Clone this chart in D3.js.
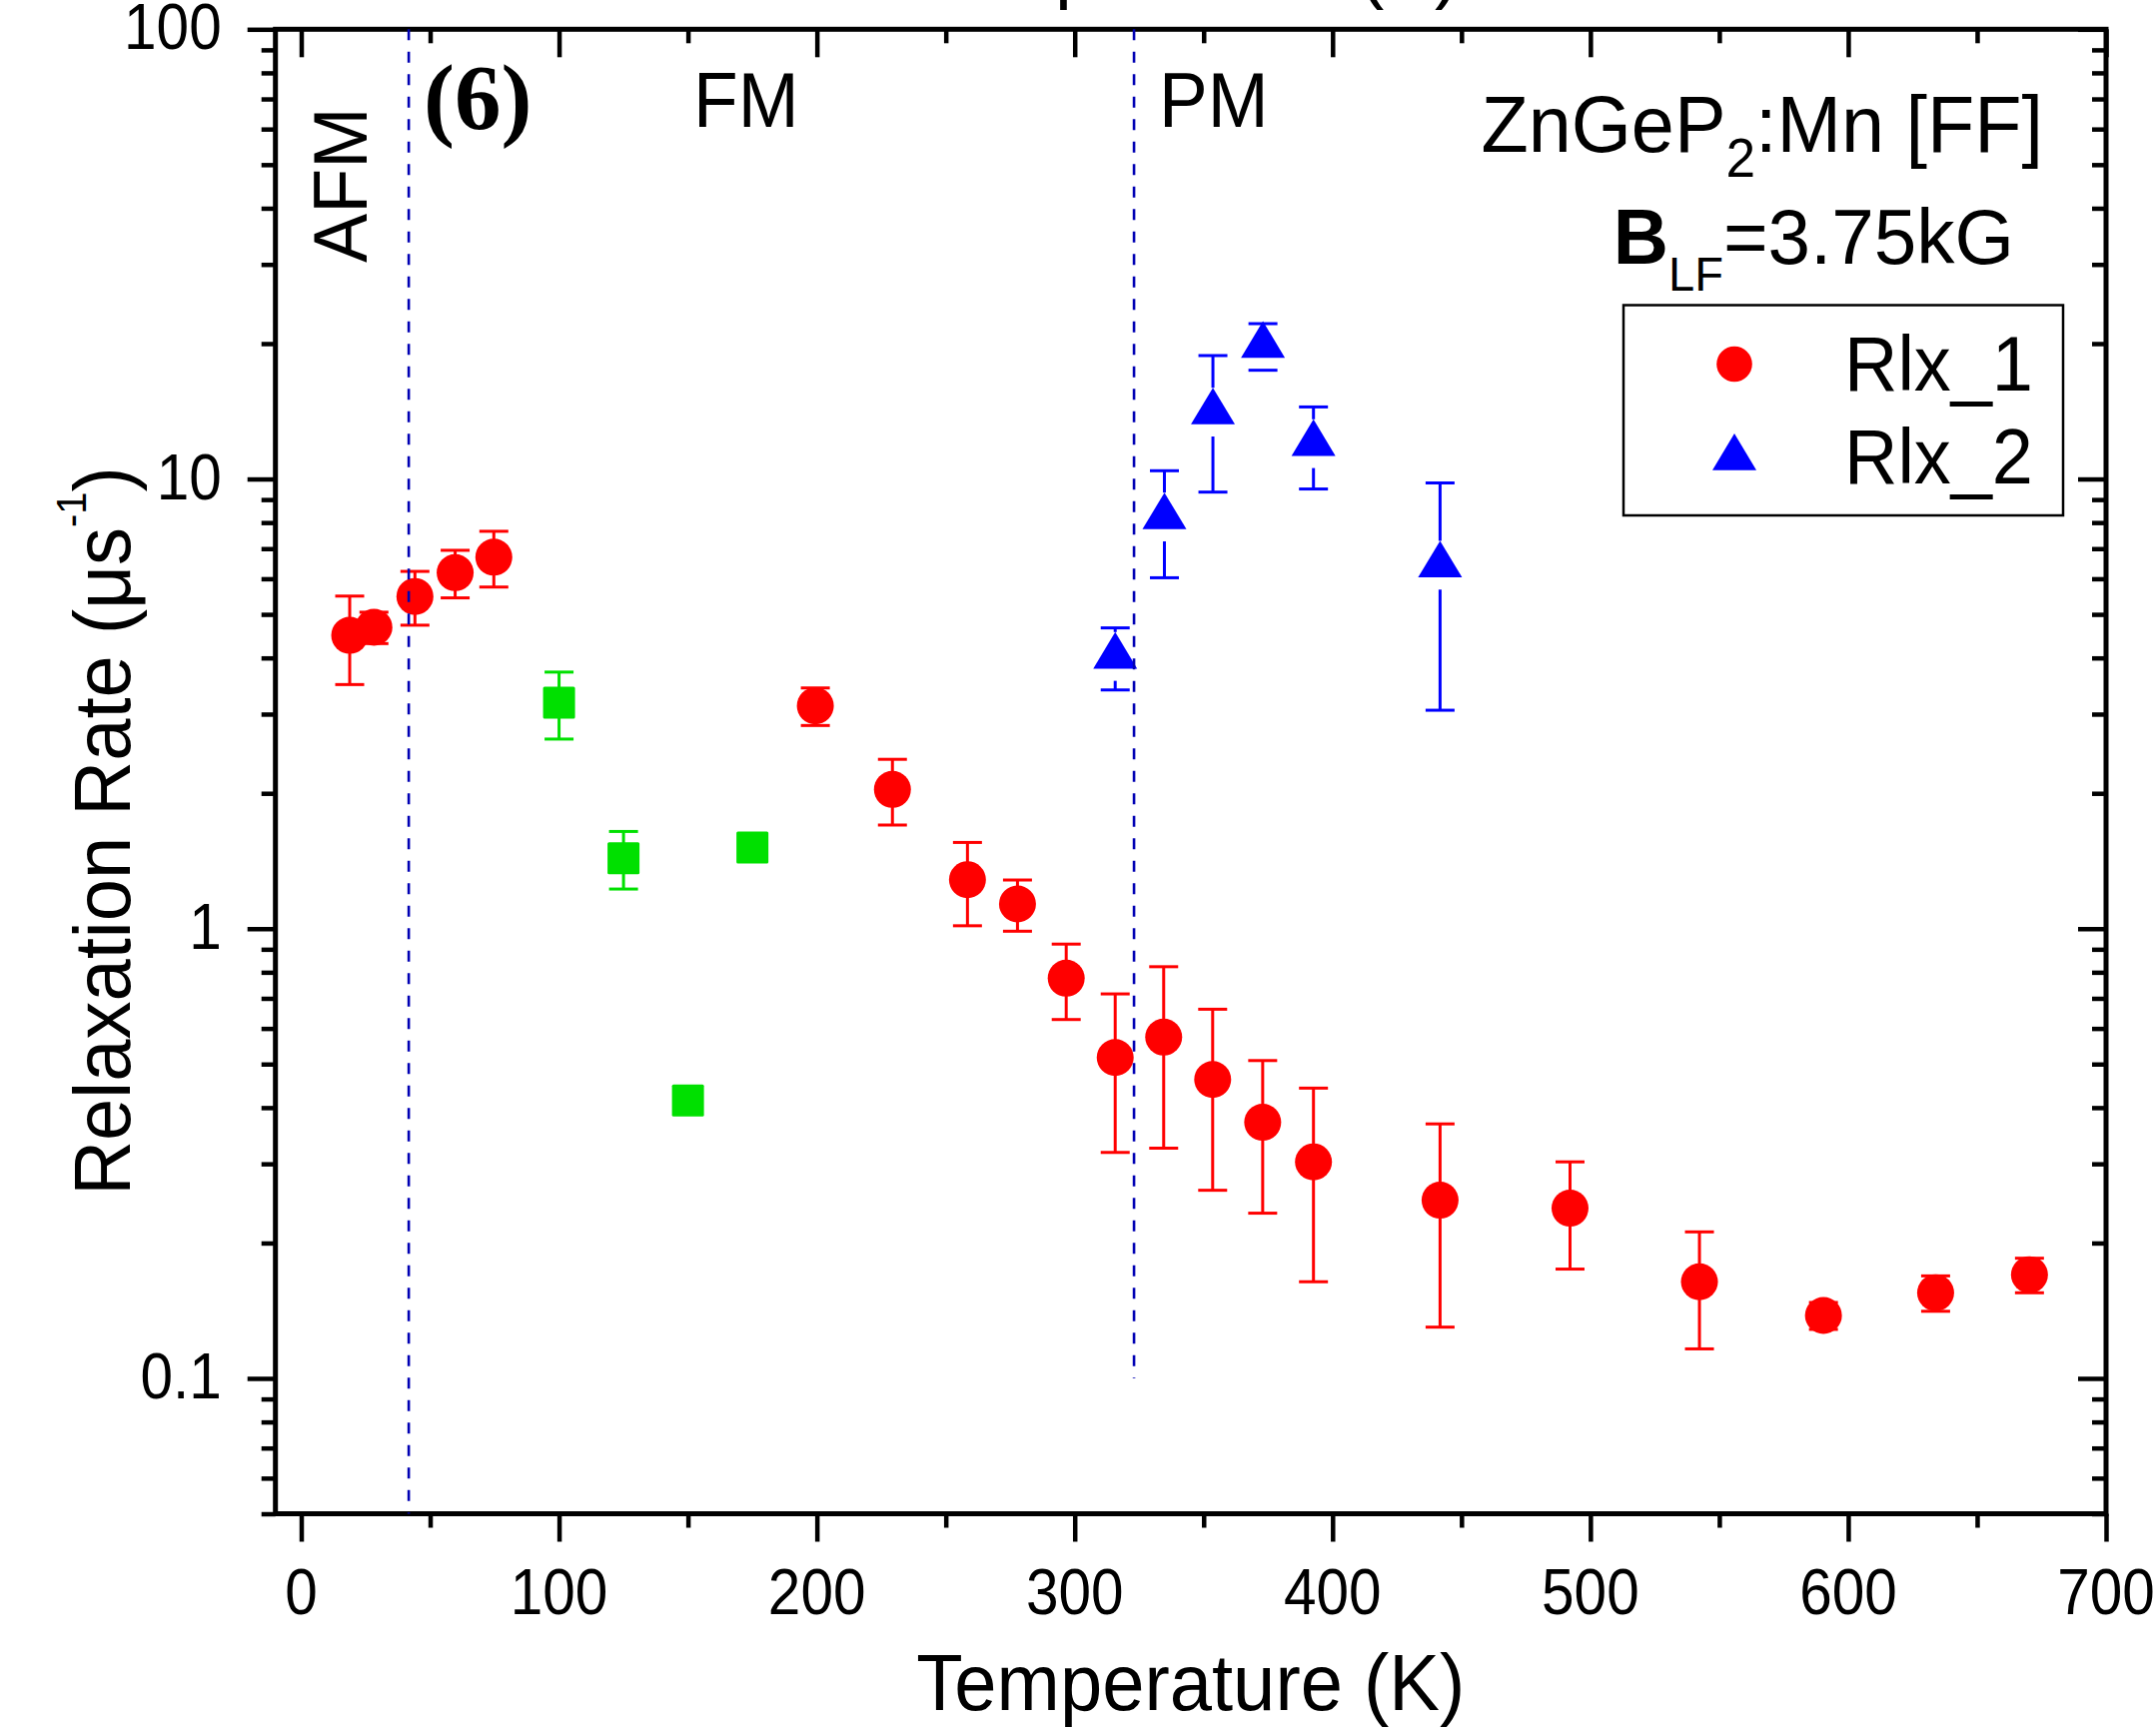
<!DOCTYPE html>
<html>
<head>
<meta charset="utf-8">
<script src="https://cdn.jsdelivr.net/npm/d3@7"></script>
<style>
  html, body { margin: 0; padding: 0; background: #fff; }
  svg { display: block; background: #fff; }
  text { fill: #000; }
</style>
</head>
<body>
<svg id="chart" width="2158" height="1729"></svg>
<script>
// Rlx_1 (red circles): temperature (K), relaxation rate (µs^-1), symmetric error
const rlx1Temp = [18.8, 28.2, 44.1, 59.7, 74.7, 199.4, 229.3, 258.4, 277.8, 296.7, 315.7, 334.5, 353.5, 372.9, 392.6, 441.7, 492.1, 542.3, 590.4, 633.9, 670.3];
const rlx1Rate = [4.49, 4.68, 5.48, 6.19, 6.70, 3.13, 2.04, 1.285, 1.135, 0.776, 0.517, 0.574, 0.462, 0.371, 0.303, 0.249, 0.239, 0.164, 0.138, 0.155, 0.170];
const rlx1Err  = [1.0, 0.375, 0.75, 0.75, 0.95, 0.30, 0.34, 0.27, 0.148, 0.148, 0.199, 0.249, 0.20, 0.138, 0.139, 0.119, 0.064, 0.0477, 0.0095, 0.014, 0.015];

// Rlx_2 (blue triangles)
const rlx2Temp = [315.7, 334.8, 353.6, 373.0, 392.6, 441.7];
const rlx2Rate = [4.03, 8.23, 14.08, 19.8, 11.98, 6.43];
const rlx2Err  = [0.635, 2.2, 4.73, 2.35, 2.48, 3.37];

// Low-temperature component (green squares)
const fmTemp = [100, 125, 150, 175];
const fmRate = [3.18, 1.435, 0.415, 1.515];
const fmErr  = [0.54, 0.21, 0, 0];

// Phase boundaries (dashed lines): temperature and lower end of the line
const boundaryTemp = [41.7, 323];
const boundaryLow  = [0.05, 0.1];

// Axis ticks
const xMajor = [0, 100, 200, 300, 400, 500, 600, 700];
const xMinor = [50, 150, 250, 350, 450, 550, 650];
const yMajor = [0.1, 1, 10, 100];
const yMajorLabels = ["0.1", "1", "10", "100"];
const yMinor = [0.05, 0.06, 0.07, 0.08, 0.09,
                0.2, 0.3, 0.4, 0.5, 0.6, 0.7, 0.8, 0.9,
                2, 3, 4, 5, 6, 7, 8, 9,
                20, 30, 40, 50, 60, 70, 80, 90];

const xDomain = [-10, 700];
const yDomain = [0.05, 100];

// Plot frame in pixels
const L = 275.7, R = 2108, T = 29.3, B = 1515.5;

const SANS = "'Liberation Sans', Arial, Helvetica, sans-serif";
const SERIF = "'Liberation Serif', 'Times New Roman', Times, serif";

const svg = d3.select("#chart");
const x = d3.scaleLinear().domain(xDomain).range([L, R]);
const y = d3.scaleLog().domain(yDomain).range([B, T]);

const RED = "#ff0000", BLUE = "#0000ff", GREEN = "#00e000", NAVY = "#0000b4";

function addText(parent, px, py, str, size, opts = {}) {
  let tr = `translate(${px},${py})`;
  if (opts.rotate) tr += ` rotate(${opts.rotate})`;
  tr += ` scale(${opts.sx || 1},1)`;
  const t = parent.append("text")
    .attr("transform", tr)
    .style("font-family", opts.family || SANS)
    .attr("font-size", size)
    .attr("text-anchor", opts.anchor || "start");
  if (opts.weight) t.attr("font-weight", opts.weight);
  if (str !== null) t.text(str);
  return t;
}

// ---------- axes ----------
function styleAxis(g, w) {
  g.select(".domain").remove();
  g.selectAll(".tick line").attr("stroke", "#000").attr("stroke-width", w);
  g.selectAll(".tick text").remove();
}

// bottom (outward)
svg.append("g").attr("transform", `translate(0,${B})`)
  .call(d3.axisBottom(x).tickValues(xMajor).tickSize(28).tickFormat(""))
  .call(g => styleAxis(g, 4.5));
svg.append("g").attr("transform", `translate(0,${B})`)
  .call(d3.axisBottom(x).tickValues(xMinor).tickSize(14).tickFormat(""))
  .call(g => styleAxis(g, 4.5));
// top (inward)
svg.append("g").attr("transform", `translate(0,${T})`)
  .call(d3.axisBottom(x).tickValues(xMajor).tickSize(28).tickFormat(""))
  .call(g => styleAxis(g, 4.5));
svg.append("g").attr("transform", `translate(0,${T})`)
  .call(d3.axisBottom(x).tickValues(xMinor).tickSize(14).tickFormat(""))
  .call(g => styleAxis(g, 4.5));
// left (outward)
svg.append("g").attr("transform", `translate(${L},0)`)
  .call(d3.axisLeft(y).tickValues(yMajor).tickSize(28).tickFormat(""))
  .call(g => styleAxis(g, 4.5));
svg.append("g").attr("transform", `translate(${L},0)`)
  .call(d3.axisLeft(y).tickValues(yMinor).tickSize(14).tickFormat(""))
  .call(g => styleAxis(g, 4.5));
// right (inward)
svg.append("g").attr("transform", `translate(${R},0)`)
  .call(d3.axisLeft(y).tickValues(yMajor).tickSize(28).tickFormat(""))
  .call(g => styleAxis(g, 4.5));
svg.append("g").attr("transform", `translate(${R},0)`)
  .call(d3.axisLeft(y).tickValues(yMinor).tickSize(14).tickFormat(""))
  .call(g => styleAxis(g, 4.5));

// frame
svg.append("rect")
  .attr("x", L).attr("y", T).attr("width", R - L).attr("height", B - T)
  .attr("fill", "none").attr("stroke", "#000").attr("stroke-width", 5);

// tick labels
const tickLab = svg.append("g");
xMajor.forEach(v => addText(tickLab, x(v), B + 100, String(v), 65, { anchor: "middle", sx: 0.9 }));
yMajor.forEach((v, i) => addText(tickLab, L - 54, y(v) + 20, yMajorLabels[i], 65, { anchor: "end", sx: 0.9 }));

// axis titles (the top one sits mostly above the frame)
addText(svg, (L + R) / 2, 1712, "Temperature (K)", 80, { anchor: "middle", sx: 0.95 });
addText(svg, (L + R) / 2 - 5, -7, "Temperature (K)", 80, { anchor: "middle", sx: 0.95 });

const yTitle = addText(svg, 129.5, 832, null, 80, { anchor: "middle", rotate: -90, sx: 0.95 });
yTitle.append("tspan").text("Relaxation Rate (\u03bcs");
yTitle.append("tspan").attr("font-size", 42).attr("dy", -44).text("-1");
yTitle.append("tspan").attr("font-size", 80).attr("dy", 44).text(")");

// ---------- data ----------
const plot = svg.append("g");
const capW = 29;

function errorBars(g, temps, rates, errs, color, gap) {
  temps.forEach((t, i) => {
    const e = errs[i];
    if (!e) return;
    const cx = x(t), cy = y(rates[i]);
    const yTop = y(rates[i] + e), yBot = y(Math.max(rates[i] - e, yDomain[0]));
    const segs = gap > 0
      ? [[yTop, Math.max(yTop, cy - gap)], [Math.min(yBot, cy + gap), yBot]]
      : [[yTop, yBot]];
    segs.forEach(([a, b]) => {
      if (b > a) g.append("line").attr("x1", cx).attr("x2", cx).attr("y1", a).attr("y2", b)
        .attr("stroke", color).attr("stroke-width", 3);
    });
    [yTop, yBot].forEach(yy => g.append("line")
      .attr("x1", cx - capW / 2).attr("x2", cx + capW / 2).attr("y1", yy).attr("y2", yy)
      .attr("stroke", color).attr("stroke-width", 3));
  });
}

// triangle with its centroid at the data point
const triH = 36.6, triW = 44;
function triPath(cx, cy) {
  return `M${cx},${cy - triH * 2 / 3} L${cx + triW / 2},${cy + triH / 3} L${cx - triW / 2},${cy + triH / 3} Z`;
}

// green squares
errorBars(plot, fmTemp, fmRate, fmErr, GREEN, 0);
plot.selectAll(".sq").data(fmTemp).join("rect")
  .attr("x", (d, i) => x(d) - 16).attr("y", (d, i) => y(fmRate[i]) - 16)
  .attr("width", 32).attr("height", 32).attr("rx", 1.5)
  .attr("fill", GREEN);

// red circles
errorBars(plot, rlx1Temp, rlx1Rate, rlx1Err, RED, 0);
plot.selectAll(".c1").data(rlx1Temp).join("circle")
  .attr("cx", d => x(d)).attr("cy", (d, i) => y(rlx1Rate[i]))
  .attr("r", 18.5).attr("fill", RED);

// blue triangles
errorBars(plot, rlx2Temp, rlx2Rate, rlx2Err, BLUE, triH * 2 / 3);
plot.selectAll(".t2").data(rlx2Temp).join("path")
  .attr("d", (d, i) => triPath(x(d), y(rlx2Rate[i])))
  .attr("fill", BLUE);

// phase boundaries
boundaryTemp.forEach((t, i) => {
  svg.append("line")
    .attr("x1", x(t)).attr("x2", x(t))
    .attr("y1", y(yDomain[1])).attr("y2", y(boundaryLow[i]))
    .attr("stroke", NAVY).attr("stroke-width", 2.6)
    .attr("stroke-dasharray", "11,11.5");
});

// ---------- annotations ----------
addText(svg, 367, 263, "AFM", 76, { rotate: -90, sx: 0.97 });
addText(svg, 424, 129, "(6)", 93, { weight: "bold", family: SERIF });
addText(svg, 694, 127, "FM", 77, { sx: 0.95 });
addText(svg, 1160, 127, "PM", 77, { sx: 0.95 });

const comp = addText(svg, 2045, 152, null, 80, { anchor: "end", sx: 0.967 });
comp.append("tspan").text("ZnGeP");
comp.append("tspan").attr("font-size", 55).attr("dy", 25).text("2");
comp.append("tspan").attr("font-size", 80).attr("dy", -25).text(":Mn [FF]");

const field = addText(svg, 2016, 264, null, 78, { anchor: "end", sx: 0.98 });
field.append("tspan").attr("font-weight", "bold").text("B");
field.append("tspan").attr("font-size", 48).attr("dy", 27).text("LF");
field.append("tspan").attr("font-size", 78).attr("dy", -27).text("=3.75kG");

// legend
const leg = svg.append("g");
leg.append("rect").attr("x", 1625).attr("y", 305.5).attr("width", 440).attr("height", 210.5)
  .attr("fill", "#fff").attr("stroke", "#000").attr("stroke-width", 2.5);
leg.append("circle").attr("cx", 1736).attr("cy", 364.5).attr("r", 17.8).attr("fill", RED);
leg.append("path").attr("d", triPath(1736, 458.5)).attr("fill", BLUE);
addText(leg, 1846, 391, "Rlx_1", 77, { sx: 0.96 });
addText(leg, 1846, 484, "Rlx_2", 77, { sx: 0.96 });
</script>
</body>
</html>
